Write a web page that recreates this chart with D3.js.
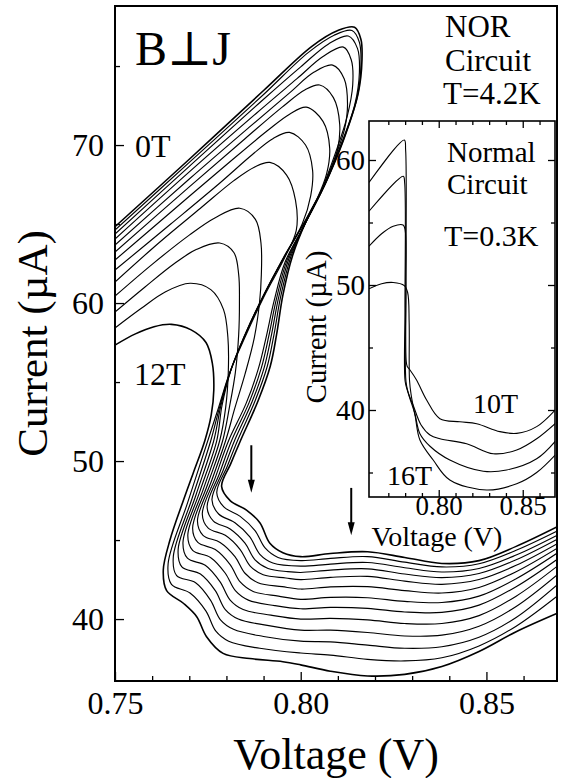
<!DOCTYPE html>
<html>
<head>
<meta charset="utf-8">
<script src="https://cdn.jsdelivr.net/npm/d3@7"></script>
<style>
  body { margin: 0; background: #fff; }
  svg text { font-family: 'Liberation Serif', 'Times New Roman', 'DejaVu Serif', serif; fill: #000; }
</style>
</head>
<body>
<svg id="chart" width="561" height="778"></svg>
<script>
// ---- data ----
const mainFields = ['0T', '1T', '2T', '3T', '4T', '5T', '6T', '7T', '8T', '9T', '10T', '11T', '12T']

// rise, loop and descent of each trace down to about 52 µA, [V, µA]
const mainUpper = [
  [[0.75, 64.83], [0.77, 69.1], [0.79, 73.45], [0.803, 76.25], [0.81, 77.25], [0.8145, 77.45], [0.8162, 76.7], [0.8165, 75.4], [0.8155, 73.3], [0.8115, 70.3], [0.8065, 67.5], [0.8015, 65.2], [0.7978, 63.0], [0.7952, 60.5], [0.7935, 58.0], [0.7918, 56.0], [0.7885, 53.8]],
  [[0.75, 64.62], [0.77, 68.9], [0.79, 73.2], [0.802, 75.85], [0.809, 76.95], [0.8138, 77.25], [0.8158, 76.5], [0.8162, 75.0], [0.8152, 73.0], [0.8112, 70.15], [0.8063, 67.4], [0.8013, 65.1], [0.7973, 62.9], [0.7946, 60.4], [0.7928, 58.0], [0.791, 56.0], [0.7877, 53.8]],
  [[0.75, 64.37], [0.77, 68.65], [0.79, 72.9], [0.8, 74.95], [0.8075, 76.4], [0.8128, 76.9], [0.8153, 76.1], [0.8158, 74.6], [0.8146, 72.6], [0.8108, 70.0], [0.806, 67.3], [0.8011, 65.0], [0.7968, 62.8], [0.794, 60.3], [0.7921, 57.95], [0.7902, 55.95], [0.7869, 53.75]],
  [[0.75, 64.05], [0.77, 68.3], [0.788, 72.0], [0.799, 74.2], [0.806, 75.6], [0.8115, 76.2], [0.8136, 75.4], [0.814, 73.8], [0.8125, 71.8], [0.8095, 69.6], [0.8055, 67.1], [0.8009, 64.9], [0.7963, 62.7], [0.7934, 60.2], [0.7914, 57.9], [0.7894, 55.9], [0.7861, 53.7]],
  [[0.75, 63.67], [0.77, 67.85], [0.786, 71.1], [0.797, 73.3], [0.8035, 74.6], [0.8086, 75.06], [0.8117, 74.2], [0.8126, 72.6], [0.8118, 71.0], [0.8092, 69.2], [0.8055, 67.0], [0.8007, 64.8], [0.7958, 62.6], [0.7928, 60.1], [0.7907, 57.85], [0.7886, 55.85], [0.7853, 53.65]],
  [[0.75, 63.23], [0.77, 67.35], [0.785, 70.4], [0.795, 72.4], [0.8012, 73.5], [0.8051, 73.8], [0.8088, 73.0], [0.8105, 71.3], [0.8099, 69.7], [0.8073, 67.9], [0.8037, 66.3], [0.8005, 64.9], [0.7955, 62.9], [0.79, 60.5], [0.785, 58.0], [0.7812, 55.75], [0.7788, 53.5]],
  [[0.75, 62.72], [0.765, 65.75], [0.78, 68.75], [0.791, 70.9], [0.797, 71.95], [0.8015, 72.4], [0.806, 71.5], [0.8078, 69.8], [0.807, 68.2], [0.8044, 66.6], [0.8006, 64.95], [0.7956, 62.92], [0.7901, 60.5], [0.7851, 58.0], [0.7811, 55.7], [0.7785, 53.5]],
  [[0.75, 62.09], [0.765, 65.0], [0.778, 67.55], [0.787, 69.4], [0.7925, 70.4], [0.797, 70.8], [0.8013, 70.0], [0.8032, 68.4], [0.8027, 66.8], [0.8004, 65.0], [0.7954, 62.9], [0.7899, 60.45], [0.7849, 57.95], [0.781, 55.65], [0.7782, 53.45]],
  [[0.75, 61.33], [0.762, 63.85], [0.773, 66.0], [0.782, 67.75], [0.7875, 68.6], [0.7917, 68.9], [0.7962, 68.1], [0.7986, 66.5], [0.7988, 64.6], [0.7957, 62.88], [0.7902, 60.45], [0.7852, 57.95], [0.7809, 55.6], [0.7779, 53.4]],
  [[0.75, 60.44], [0.76, 62.45], [0.77, 64.3], [0.777, 65.4], [0.7836, 66.0], [0.7878, 65.3], [0.7893, 63.8], [0.7894, 61.8], [0.7889, 60.0], [0.7875, 57.8], [0.785, 55.5], [0.7822, 53.3]],
  [[0.75, 59.43], [0.758, 61.0], [0.766, 62.5], [0.772, 63.4], [0.7782, 63.8], [0.782, 63.2], [0.7833, 61.8], [0.7835, 60.0], [0.7833, 58.0], [0.7824, 55.6], [0.7808, 53.4]],
  [[0.75, 58.42], [0.757, 59.65], [0.7635, 60.7], [0.7702, 61.25], [0.7758, 60.85], [0.7792, 59.6], [0.7804, 57.8], [0.7805, 55.6], [0.7798, 53.4]],
  [[0.75, 57.34], [0.7555, 58.05], [0.7605, 58.5], [0.7652, 58.65], [0.7705, 58.3], [0.7745, 57.5], [0.7762, 56.2], [0.7766, 54.5], [0.7759, 52.9]]
]

// which lower branch (top = 0 ... bottom = 12) each trace runs into
const branchOf = [0, 1, 2, 3, 4, 8, 9, 10, 11, 5, 6, 7, 12]

// lower branches: bend at the left, the step, up to 0.80 V
const lowerLeft = [
  [[0.7838, 51.3], [0.7812, 49.85], [0.7787, 48.4], [0.781, 47.5], [0.7854, 46.9], [0.789, 46.1], [0.7917, 44.8], [0.7952, 44.2]],
  [[0.783, 51.3], [0.7802, 49.65], [0.7774, 48.0], [0.7793, 47.1], [0.7837, 46.5], [0.7877, 45.6], [0.7904, 44.5], [0.7939, 43.9]],
  [[0.7822, 51.3], [0.7791, 49.4], [0.7761, 47.55], [0.7779, 46.65], [0.7823, 46.1], [0.7863, 45.2], [0.789, 44.1], [0.7925, 43.55]],
  [[0.7814, 51.3], [0.7781, 49.2], [0.7748, 47.1], [0.7765, 46.2], [0.781, 45.7], [0.785, 44.8], [0.7877, 43.75], [0.7912, 43.2], [0.7965, 43.0]],
  [[0.7806, 51.3], [0.777, 48.95], [0.7735, 46.65], [0.7751, 45.75], [0.7797, 45.3], [0.7837, 44.4], [0.7864, 43.35], [0.7899, 42.8], [0.796, 42.6]],
  [[0.7798, 51.3], [0.776, 48.75], [0.7722, 46.2], [0.7737, 45.3], [0.7783, 44.85], [0.7823, 43.95], [0.785, 42.9], [0.7885, 42.3], [0.795, 42.05]],
  [[0.779, 51.3], [0.7749, 48.5], [0.7709, 45.75], [0.7723, 44.85], [0.777, 44.4], [0.781, 43.45], [0.7837, 42.35], [0.7872, 41.75], [0.794, 41.45]],
  [[0.7782, 51.3], [0.7739, 48.3], [0.7696, 45.3], [0.7709, 44.35], [0.7757, 43.9], [0.7797, 42.9], [0.7824, 41.8], [0.7859, 41.2], [0.793, 40.85]],
  [[0.7774, 51.3], [0.7728, 48.05], [0.7683, 44.85], [0.7695, 43.85], [0.7743, 43.4], [0.7783, 42.35], [0.781, 41.2], [0.7845, 40.6], [0.792, 40.25]],
  [[0.7766, 51.3], [0.7718, 47.85], [0.767, 44.4], [0.768, 43.3], [0.773, 42.85], [0.777, 41.8], [0.7797, 40.6], [0.7832, 40.0], [0.791, 39.6]],
  [[0.7758, 51.3], [0.7707, 47.6], [0.7657, 43.95], [0.7666, 42.75], [0.7717, 42.3], [0.7757, 41.2], [0.7784, 39.95], [0.7819, 39.35], [0.79, 38.9]],
  [[0.775, 51.3], [0.7696, 47.4], [0.7643, 43.5], [0.7652, 42.2], [0.7702, 41.65], [0.7745, 40.5], [0.7771, 39.25], [0.7806, 38.6], [0.789, 38.15]],
  [[0.7742, 51.3], [0.771, 49.2], [0.7684, 47.5], [0.7648, 45.0], [0.763, 43.1], [0.7639, 41.8], [0.7684, 41.0], [0.772, 40.15], [0.7746, 38.9], [0.7791, 37.83], [0.7863, 37.5], [0.7952, 37.3]]
]

// lower branches sampled at common voltages
const lowerV = [0.800, 0.808, 0.818, 0.828, 0.838, 0.848, 0.858, 0.870]
const lowerI = [
  [43.95, 44.15, 44.26, 43.9, 43.52, 43.7, 44.6, 45.95],
  [43.7, 43.84, 43.95, 43.6, 43.3, 43.5, 44.35, 45.68],
  [43.35, 43.48, 43.58, 43.25, 42.98, 43.2, 44.05, 45.42],
  [42.95, 43.1, 43.18, 42.85, 42.62, 42.88, 43.75, 45.17],
  [42.5, 42.64, 42.7, 42.4, 42.2, 42.5, 43.4, 44.89],
  [41.9, 42.04, 42.05, 41.8, 41.65, 42.0, 43.0, 44.62],
  [41.25, 41.37, 41.35, 41.12, 41.05, 41.45, 42.55, 44.32],
  [40.65, 40.74, 40.68, 40.45, 40.42, 40.88, 42.05, 43.94],
  [40.0, 40.04, 39.95, 39.72, 39.72, 40.22, 41.45, 43.52],
  [39.3, 39.3, 39.15, 38.93, 38.98, 39.55, 40.8, 42.99],
  [38.6, 38.56, 38.35, 38.15, 38.25, 38.85, 40.1, 42.36],
  [37.85, 37.72, 37.45, 37.35, 37.55, 38.3, 39.55, 41.63],
  [37.1, 36.7, 36.4, 36.5, 37.0, 37.95, 39.2, 40.46]
]

const mainXTicks = [0.75, 0.80, 0.85]
const mainXMinor = [0.76, 0.77, 0.78, 0.79, 0.81, 0.82, 0.83, 0.84, 0.86]
const mainYTicks = [40, 50, 60, 70]
const mainYMinor = [45, 55, 65, 75]

// arrows marking the features, [V, from µA, to µA]
const arrows = [[0.7867, 51.0, 48.0], [0.8136, 48.3, 45.3]]

// inset: normal circuit at 0.3 K
const insetFields = ['10T', '12T', '14T', '16T']
const insetCurves = [
  [[0.7585, 58.2], [0.7795, 61.6], [0.7803, 60.8], [0.7805, 50.0], [0.7806, 44.0], [0.7812, 43.5], [0.7829, 43.2], [0.7868, 42.4], [0.7928, 40.8], [0.8007, 39.3], [0.8126, 39.06], [0.8226, 38.9], [0.8364, 38.27], [0.8464, 38.13], [0.8583, 38.67], [0.870, 40.1]],
  [[0.7585, 55.9], [0.7789, 58.7], [0.7797, 58.2], [0.7799, 48.0], [0.78, 42.3], [0.7815, 41.5], [0.785, 40.3], [0.7895, 38.8], [0.7948, 38.0], [0.8007, 37.7], [0.8166, 37.3], [0.8325, 36.5], [0.8464, 36.8], [0.8583, 37.7], [0.870, 39.0]],
  [[0.7585, 53.1], [0.766, 54.1], [0.7729, 54.7], [0.7788, 54.8], [0.78, 54.4], [0.7804, 50.0], [0.7805, 42.3], [0.782, 41.3], [0.7858, 39.7], [0.7888, 38.1], [0.7948, 37.1], [0.8066, 36.0], [0.8265, 35.1], [0.8404, 35.2], [0.8583, 36.1], [0.870, 37.6]],
  [[0.7585, 49.7], [0.766, 50.1], [0.7729, 50.2], [0.7795, 49.95], [0.7815, 49.4], [0.7824, 47.0], [0.7826, 42.4], [0.7836, 41.2], [0.786, 39.5], [0.7888, 37.6], [0.7967, 36.0], [0.8066, 34.4], [0.8285, 33.6], [0.8464, 34.1], [0.8583, 35.0], [0.870, 36.5]]
]
const insetXTicks = [0.80, 0.85]
const insetXMinor = [0.77, 0.78, 0.79, 0.81, 0.82, 0.83, 0.84, 0.86]
const insetYTicks = [40, 50, 60]
const insetYMinor = [35, 45, 55]

// ---- layout ----
const svg = d3.select('#chart')
const main = { left: 115, right: 557, top: 6, bottom: 681 }
const inset = { left: 369, right: 555, top: 121, bottom: 497 }

const x = d3.scaleLinear().domain([0.75, 0.869]).range([main.left, main.right])
const y = d3.scaleLinear().domain([36.08, 78.8]).range([main.bottom, main.top])
const ix = d3.scaleLinear().domain([0.7585, 0.8692]).range([inset.left, inset.right])
const iy = d3.scaleLinear().domain([33.04, 63.12]).range([inset.bottom, inset.top])

const defs = svg.append('defs')
function addClip (id, box) {
  defs.append('clipPath').attr('id', id).append('rect')
    .attr('x', box.left).attr('y', box.top)
    .attr('width', box.right - box.left).attr('height', box.bottom - box.top)
}
addClip('clip-main', main)
addClip('clip-inset', inset)

function styleAxis (g, fontSize) {
  g.select('.domain').remove()
  g.selectAll('line').attr('stroke', '#000').attr('stroke-width', 1.3)
  g.selectAll('text').attr('font-size', fontSize).attr('fill', '#000')
    .style('font-family', "'Liberation Serif', 'Times New Roman', serif")
}

// draw ticks of one axis: major with labels, minor without
function drawAxis (axisFn, scale, major, minor, transform, majorLen, minorLen, padding, fontSize, fmt) {
  svg.append('g').attr('transform', transform)
    .call(axisFn(scale).tickValues(major).tickSize(-majorLen).tickPadding(padding).tickFormat(fmt))
    .call(g => styleAxis(g, fontSize))
  svg.append('g').attr('transform', transform)
    .call(axisFn(scale).tickValues(minor).tickSize(-minorLen).tickFormat(''))
    .call(g => styleAxis(g, fontSize))
}

const lineMain = d3.line().x(d => x(d[0])).y(d => y(d[1])).curve(d3.curveCatmullRom.alpha(0.5))
const lineInset = d3.line().x(d => ix(d[0])).y(d => iy(d[1])).curve(d3.curveCatmullRom.alpha(0.5))

// ---- main plot ----
const mainTraces = mainUpper.map((pts, i) => {
  const b = branchOf[i]
  return pts.concat(lowerLeft[b], lowerV.map((v, j) => [v, lowerI[b][j]]))
})

svg.append('g').attr('clip-path', 'url(#clip-main)')
  .selectAll('path').data(mainTraces).join('path')
  .attr('d', lineMain)
  .attr('fill', 'none')
  .attr('stroke', '#000')
  .attr('stroke-width', (d, i) => (i === 0 || i === mainTraces.length - 1) ? 1.6 : 1.15)

svg.append('rect')
  .attr('x', main.left).attr('y', main.top)
  .attr('width', main.right - main.left).attr('height', main.bottom - main.top)
  .attr('fill', 'none').attr('stroke', '#000').attr('stroke-width', 2)

drawAxis(d3.axisBottom, x, mainXTicks, mainXMinor, `translate(0,${main.bottom})`, 9, 5, 10, 32, d3.format('.2f'))
drawAxis(d3.axisLeft, y, mainYTicks, mainYMinor, `translate(${main.left},0)`, 9, 5, 11, 32, d3.format('d'))

// arrows
arrows.forEach(([v, from, to]) => {
  const ax = x(v)
  const tip = y(to)
  svg.append('line')
    .attr('x1', ax).attr('x2', ax).attr('y1', y(from)).attr('y2', tip - 8)
    .attr('stroke', '#000').attr('stroke-width', 2)
  svg.append('path')
    .attr('d', `M${ax - 3.5},${tip - 13} L${ax + 3.5},${tip - 13} L${ax},${tip} Z`)
    .attr('fill', '#000')
})

// labels
svg.append('text').attr('x', 135).attr('y', 65).attr('font-size', 48).text('B⊥J')
svg.append('text').attr('x', 135).attr('y', 157).attr('font-size', 32).text(mainFields[0])
svg.append('text').attr('x', 134).attr('y', 385).attr('font-size', 32).text(mainFields[12])
svg.append('text').attr('x', 445).attr('y', 37).attr('font-size', 31).text('NOR')
svg.append('text').attr('x', 445).attr('y', 71).attr('font-size', 31).text('Circuit')
svg.append('text').attr('x', 443).attr('y', 104).attr('font-size', 31).text('T=4.2K')

svg.append('text')
  .attr('transform', `translate(47,${(main.top + main.bottom) / 2}) rotate(-90)`)
  .attr('text-anchor', 'middle').attr('font-size', 43).text('Current (µA)')
svg.append('text')
  .attr('x', (main.left + main.right) / 2).attr('y', 769)
  .attr('text-anchor', 'middle').attr('font-size', 44).text('Voltage (V)')

// ---- inset ----
svg.append('rect')
  .attr('x', inset.left).attr('y', inset.top)
  .attr('width', inset.right - inset.left).attr('height', inset.bottom - inset.top)
  .attr('fill', '#fff')

svg.append('g').attr('clip-path', 'url(#clip-inset)')
  .selectAll('path').data(insetCurves).join('path')
  .attr('d', lineInset)
  .attr('fill', 'none')
  .attr('stroke', '#000')
  .attr('stroke-width', 1.1)

svg.append('rect')
  .attr('x', inset.left).attr('y', inset.top)
  .attr('width', inset.right - inset.left).attr('height', inset.bottom - inset.top)
  .attr('fill', 'none').attr('stroke', '#000').attr('stroke-width', 1.6)

drawAxis(d3.axisBottom, ix, insetXTicks, insetXMinor, `translate(0,${inset.bottom})`, 7, 4, -1, 27, d3.format('.2f'))
drawAxis(d3.axisTop, ix, insetXTicks, insetXMinor, `translate(0,${inset.top})`, 7, 4, 2, 27, () => '')
drawAxis(d3.axisLeft, iy, insetYTicks, insetYMinor, `translate(${inset.left},0)`, 7, 4, 4, 29, d3.format('d'))
drawAxis(d3.axisRight, iy, insetYTicks, insetYMinor, `translate(${inset.right},0)`, 7, 4, 4, 29, () => '')

svg.append('text').attr('x', 447).attr('y', 162).attr('font-size', 29).text('Normal')
svg.append('text').attr('x', 447).attr('y', 194).attr('font-size', 29).text('Circuit')
svg.append('text').attr('x', 444).attr('y', 246).attr('font-size', 30).text('T=0.3K')
svg.append('text').attr('x', 473).attr('y', 413).attr('font-size', 28).text(insetFields[0])
svg.append('text').attr('x', 387).attr('y', 485).attr('font-size', 28).text(insetFields[3])

svg.append('text')
  .attr('transform', `translate(326,327) rotate(-90)`)
  .attr('text-anchor', 'middle').attr('font-size', 29).text('Current (µA)')
svg.append('text')
  .attr('x', 437).attr('y', 546)
  .attr('text-anchor', 'middle').attr('font-size', 28).text('Voltage (V)')
</script>
</body>
</html>
